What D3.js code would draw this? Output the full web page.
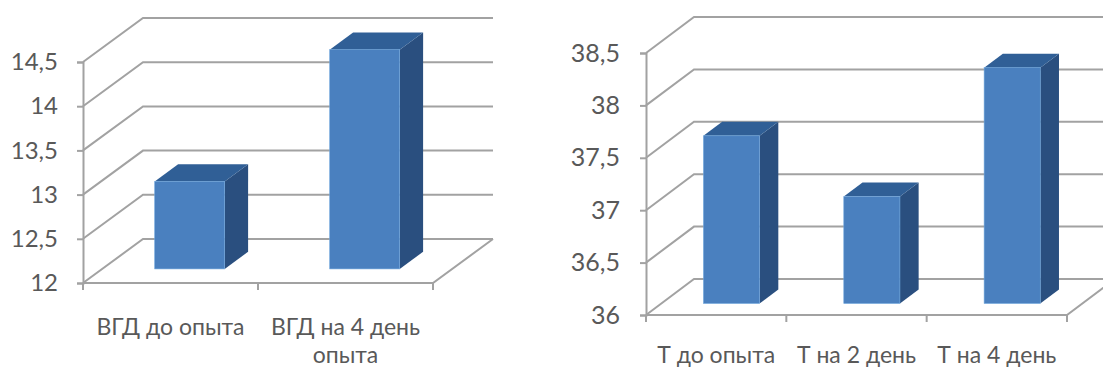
<!DOCTYPE html>
<html lang="ru">
<head>
<meta charset="utf-8">
<script src="https://cdn.jsdelivr.net/npm/d3@7/dist/d3.min.js"></script>
<style>
  html, body { margin: 0; background: #fff; }
  svg { display: block; }
  text { font-family: Lato, "Open Sans", sans-serif; fill: #595959; }
</style>
</head>
<body>
<svg id="chart" width="1103" height="369"></svg>
<script>
// Intraocular pressure before and after the experiment
const pressureCategories = [["ВГД до опыта"], ["ВГД на 4 день", "опыта"]];
const pressureValues = [12.99, 14.48];
const pressureTicks = [12, 12.5, 13, 13.5, 14, 14.5];

// Body temperature over the course of the experiment
const temperatureCategories = [["Т до опыта"], ["Т на 2 день"], ["Т на 4 день"]];
const temperatureValues = [37.6, 37.02, 38.25];
const temperatureTicks = [36, 36.5, 37, 37.5, 38, 38.5];

const svg = d3.select("#chart");
const AXIS_COLOR = "#a2a2a2";
const FRONT = "#4a80bf", SIDE = "#2a4f7f", TOP = "#305f96", EDGE = "#6fa6dc";

// Draws one pseudo-3D column chart: a floor and back wall receding by (depthX, depthY).
function drawColumns3d(opts) {
  const { categories, values, ticks, left, right, floorY, topY, depthX, depthY,
          tickFont, tickPad, labelFont, labelY, labelLine } = opts;
  const g = svg.append("g");
  const y = d3.scaleLinear().domain(d3.extent(ticks)).range([floorY, topY]);
  const keys = categories.map(c => c.join(" "));
  const x = d3.scaleBand().domain(keys).range([left, right]);
  const line = d3.line();

  // Back-wall gridlines, their returns along the side wall
  const walls = g.append("g").attr("fill", "none").attr("stroke", AXIS_COLOR).attr("stroke-width", 2);
  ticks.forEach(t => {
    walls.append("path").attr("d", line([
      [left, y(t)], [left + depthX, y(t) - depthY], [right + depthX, y(t) - depthY]
    ]));
  });
  // Front and right edges of the floor
  walls.append("path").attr("d", line([
    [left, floorY], [right, floorY], [right + depthX, floorY - depthY]
  ]));

  // Value axis
  const fmt = d => String(d).replace(".", ",");
  const yAxis = g.append("g").attr("transform", `translate(${left},0)`)
    .call(d3.axisLeft(y).tickValues(ticks).tickSize(6).tickPadding(tickPad).tickFormat(fmt));
  yAxis.selectAll("path,line").attr("stroke", AXIS_COLOR).attr("stroke-width", 2);
  yAxis.selectAll("text").attr("font-size", tickFont);
  yAxis.attr("font-family", null);

  // Category axis: ticks sit on the band boundaries
  const edges = keys.map(k => x(k)).concat(right);
  g.append("g").selectAll("line").data(edges).join("line")
    .attr("x1", d => d).attr("x2", d => d)
    .attr("y1", floorY).attr("y2", floorY + 7)
    .attr("stroke", AXIS_COLOR).attr("stroke-width", 2);

  // Columns stand between 32% and 71% of the floor depth
  const bw = x.bandwidth() * 0.4;
  const z0 = 0.32, z1 = 0.71;
  const bars = g.append("g").selectAll("g").data(values).join("g");
  const geom = (v, i) => {
    const cx = x(keys[i]) + x.bandwidth() / 2 + depthX * z0;
    const base = y.domain()[0];
    const dy0 = depthY * z0;
    return {
      x0: cx - bw / 2, x1: cx + bw / 2,
      yt: y(v) - dy0, yb: y(base) - dy0,
      sx: depthX * (z1 - z0), sy: depthY * (z1 - z0)
    };
  };
  bars.append("path").attr("fill", SIDE).attr("d", (v, i) => {
    const b = geom(v, i);
    return line([[b.x1, b.yt], [b.x1 + b.sx, b.yt - b.sy], [b.x1 + b.sx, b.yb - b.sy], [b.x1, b.yb]]) + "Z";
  });
  bars.append("path").attr("fill", TOP).attr("d", (v, i) => {
    const b = geom(v, i);
    return line([[b.x0, b.yt], [b.x0 + b.sx, b.yt - b.sy], [b.x1 + b.sx, b.yt - b.sy], [b.x1, b.yt]]) + "Z";
  });
  bars.append("rect").attr("fill", FRONT).attr("stroke", EDGE).attr("stroke-width", 0.6)
    .attr("x", (v, i) => geom(v, i).x0).attr("y", (v, i) => geom(v, i).yt)
    .attr("width", bw).attr("height", (v, i) => geom(v, i).yb - geom(v, i).yt);

  // Category labels, wrapped as given
  const labels = g.append("g").attr("text-anchor", "middle").attr("font-size", labelFont);
  categories.forEach((lines, i) => {
    lines.forEach((s, j) => {
      labels.append("text")
        .attr("x", x(keys[i]) + x.bandwidth() / 2)
        .attr("y", labelY + j * labelLine)
        .text(s);
    });
  });
}

drawColumns3d({
  categories: pressureCategories, values: pressureValues, ticks: pressureTicks,
  left: 83, right: 433, floorY: 283, topY: 62, depthX: 60, depthY: 44,
  tickFont: 24, tickPad: 19, labelFont: 23, labelY: 335, labelLine: 28
});
drawColumns3d({
  categories: temperatureCategories, values: temperatureValues, ticks: temperatureTicks,
  left: 646, right: 1067, floorY: 315, topY: 53, depthX: 48, depthY: 36,
  tickFont: 25, tickPad: 20, labelFont: 23, labelY: 363, labelLine: 28
});
</script>
</body>
</html>
